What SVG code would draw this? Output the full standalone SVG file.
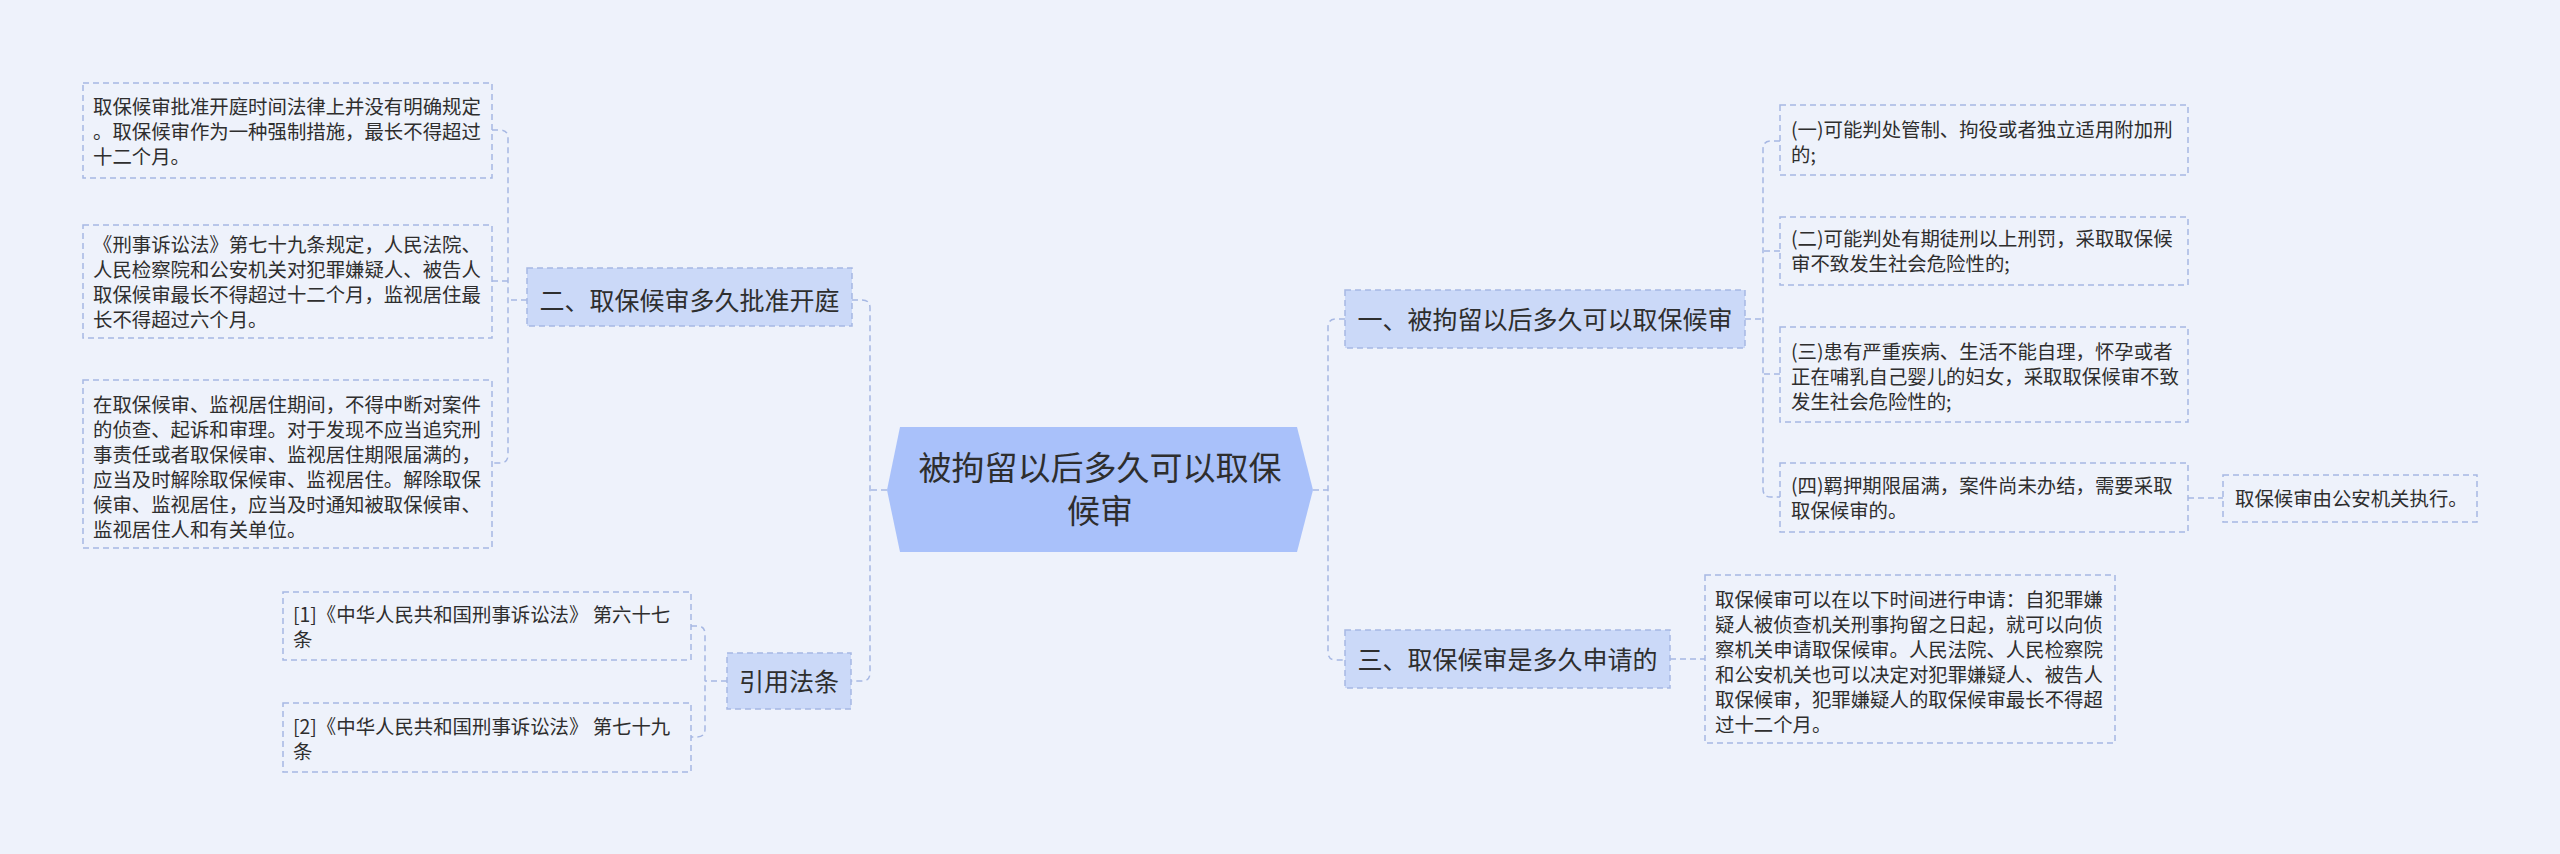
<svg xmlns="http://www.w3.org/2000/svg" width="2560" height="854" viewBox="0 0 2560 854">
<style>
.bg{fill:#eef2fb}
.leaf{fill:#eef2fb;stroke:#a7b8e3;stroke-width:1.5;stroke-dasharray:6 4}
.l1{fill:#cbd9f8;stroke:#a7b8e3;stroke-width:1.5;stroke-dasharray:6 4}
.root{fill:#a9c1fa}
.c{fill:none;stroke:#a7b8e3;stroke-width:1.5;stroke-dasharray:6 4}
text{font-family:"Noto Sans CJK SC","Noto Sans",sans-serif;fill:#2e2e2e}
.t{font-size:19.4px}
.t1{font-size:25px;text-anchor:middle}
.t0{font-size:33px;text-anchor:middle}
</style>
<rect class="bg" x="0" y="0" width="2560" height="854"/>
<g id="connectors">
<path class="c" d="M887,490 H870"/>
<path class="c" d="M852,300 H862 Q870,300 870,308 V673 Q870,681 862,681 H851"/>
<path class="c" d="M527,300 H508"/>
<path class="c" d="M492,130 H500 Q508,130 508,138 V455 Q508,463 500,463 H492"/>
<path class="c" d="M492,281 H508"/>
<path class="c" d="M727,681 H705"/>
<path class="c" d="M691,626 H697 Q705,626 705,634 V729 Q705,737 697,737 H691"/>
<path class="c" d="M1313,490 H1328"/>
<path class="c" d="M1345,319 H1336 Q1328,319 1328,327 V652 Q1328,660 1336,660 H1345"/>
<path class="c" d="M1745,319 H1763"/>
<path class="c" d="M1780,141 H1771 Q1763,141 1763,149 V489 Q1763,497 1771,497 H1780"/>
<path class="c" d="M1780,251 H1763"/>
<path class="c" d="M1780,374 H1763"/>
<path class="c" d="M1670,659 H1705"/>
<path class="c" d="M2188,498 H2223"/>
</g>
<g id="root">
<polygon class="root" points="900,427 1297,427 1313,490 1297,552 900,552 887,490"/>
<text class="t0" x="1100" y="479.5">被拘留以后多久可以取保</text>
<text class="t0" x="1100" y="522.5">候审</text>
</g>
<g id="n2">
<rect class="l1" x="527" y="268" width="325" height="58"/>
<text class="t1" x="689.5" y="309.5">二、取保候审多久批准开庭</text>
</g>
<g id="n2a">
<rect class="leaf" x="83" y="83" width="409" height="95"/>
<text class="t" x="93" y="114">取保候审批准开庭时间法律上并没有明确规定</text>
<text class="t" x="93" y="139">。取保候审作为一种强制措施，最长不得超过</text>
<text class="t" x="93" y="164">十二个月。</text>
</g>
<g id="n2b">
<rect class="leaf" x="83" y="225" width="409" height="113"/>
<text class="t" x="93" y="252">《刑事诉讼法》第七十九条规定，人民法院、</text>
<text class="t" x="93" y="277">人民检察院和公安机关对犯罪嫌疑人、被告人</text>
<text class="t" x="93" y="302">取保候审最长不得超过十二个月，监视居住最</text>
<text class="t" x="93" y="327">长不得超过六个月。</text>
</g>
<g id="n2c">
<rect class="leaf" x="83" y="380" width="409" height="168"/>
<text class="t" x="93" y="412">在取保候审、监视居住期间，不得中断对案件</text>
<text class="t" x="93" y="437">的侦查、起诉和审理。对于发现不应当追究刑</text>
<text class="t" x="93" y="462">事责任或者取保候审、监视居住期限届满的，</text>
<text class="t" x="93" y="487">应当及时解除取保候审、监视居住。解除取保</text>
<text class="t" x="93" y="512">候审、监视居住，应当及时通知被取保候审、</text>
<text class="t" x="93" y="537">监视居住人和有关单位。</text>
</g>
<g id="nref">
<rect class="l1" x="727" y="653" width="124" height="56"/>
<text class="t1" x="789" y="690.5">引用法条</text>
</g>
<g id="nref1">
<rect class="leaf" x="283" y="592" width="408" height="68"/>
<text class="t" x="293" y="622">[1]《中华人民共和国刑事诉讼法》 第六十七</text>
<text class="t" x="293" y="647">条</text>
</g>
<g id="nref2">
<rect class="leaf" x="283" y="703" width="408" height="69"/>
<text class="t" x="293" y="734">[2]《中华人民共和国刑事诉讼法》 第七十九</text>
<text class="t" x="293" y="759">条</text>
</g>
<g id="n1">
<rect class="l1" x="1345" y="290" width="400" height="58"/>
<text class="t1" x="1545" y="328.5">一、被拘留以后多久可以取保候审</text>
</g>
<g id="n1a">
<rect class="leaf" x="1780" y="105" width="408" height="70"/>
<text class="t" x="1791" y="137">(一)可能判处管制、拘役或者独立适用附加刑</text>
<text class="t" x="1791" y="162">的;</text>
</g>
<g id="n1b">
<rect class="leaf" x="1780" y="217" width="408" height="68"/>
<text class="t" x="1791" y="246">(二)可能判处有期徒刑以上刑罚，采取取保候</text>
<text class="t" x="1791" y="271">审不致发生社会危险性的;</text>
</g>
<g id="n1c">
<rect class="leaf" x="1780" y="327" width="408" height="95"/>
<text class="t" x="1791" y="359">(三)患有严重疾病、生活不能自理，怀孕或者</text>
<text class="t" x="1791" y="384">正在哺乳自己婴儿的妇女，采取取保候审不致</text>
<text class="t" x="1791" y="409">发生社会危险性的;</text>
</g>
<g id="n1d">
<rect class="leaf" x="1780" y="463" width="408" height="69"/>
<text class="t" x="1791" y="493">(四)羁押期限届满，案件尚未办结，需要采取</text>
<text class="t" x="1791" y="518">取保候审的。</text>
</g>
<g id="n1d1">
<rect class="leaf" x="2223" y="475" width="254" height="47"/>
<text class="t" x="2235" y="506">取保候审由公安机关执行。</text>
</g>
<g id="n3">
<rect class="l1" x="1345" y="630" width="325" height="58"/>
<text class="t1" x="1507.5" y="668.5">三、取保候审是多久申请的</text>
</g>
<g id="n3a">
<rect class="leaf" x="1705" y="575" width="410" height="168"/>
<text class="t" x="1715" y="607">取保候审可以在以下时间进行申请：自犯罪嫌</text>
<text class="t" x="1715" y="632">疑人被侦查机关刑事拘留之日起，就可以向侦</text>
<text class="t" x="1715" y="657">察机关申请取保候审。人民法院、人民检察院</text>
<text class="t" x="1715" y="682">和公安机关也可以决定对犯罪嫌疑人、被告人</text>
<text class="t" x="1715" y="707">取保候审，犯罪嫌疑人的取保候审最长不得超</text>
<text class="t" x="1715" y="732">过十二个月。</text>
</g>
</svg>
